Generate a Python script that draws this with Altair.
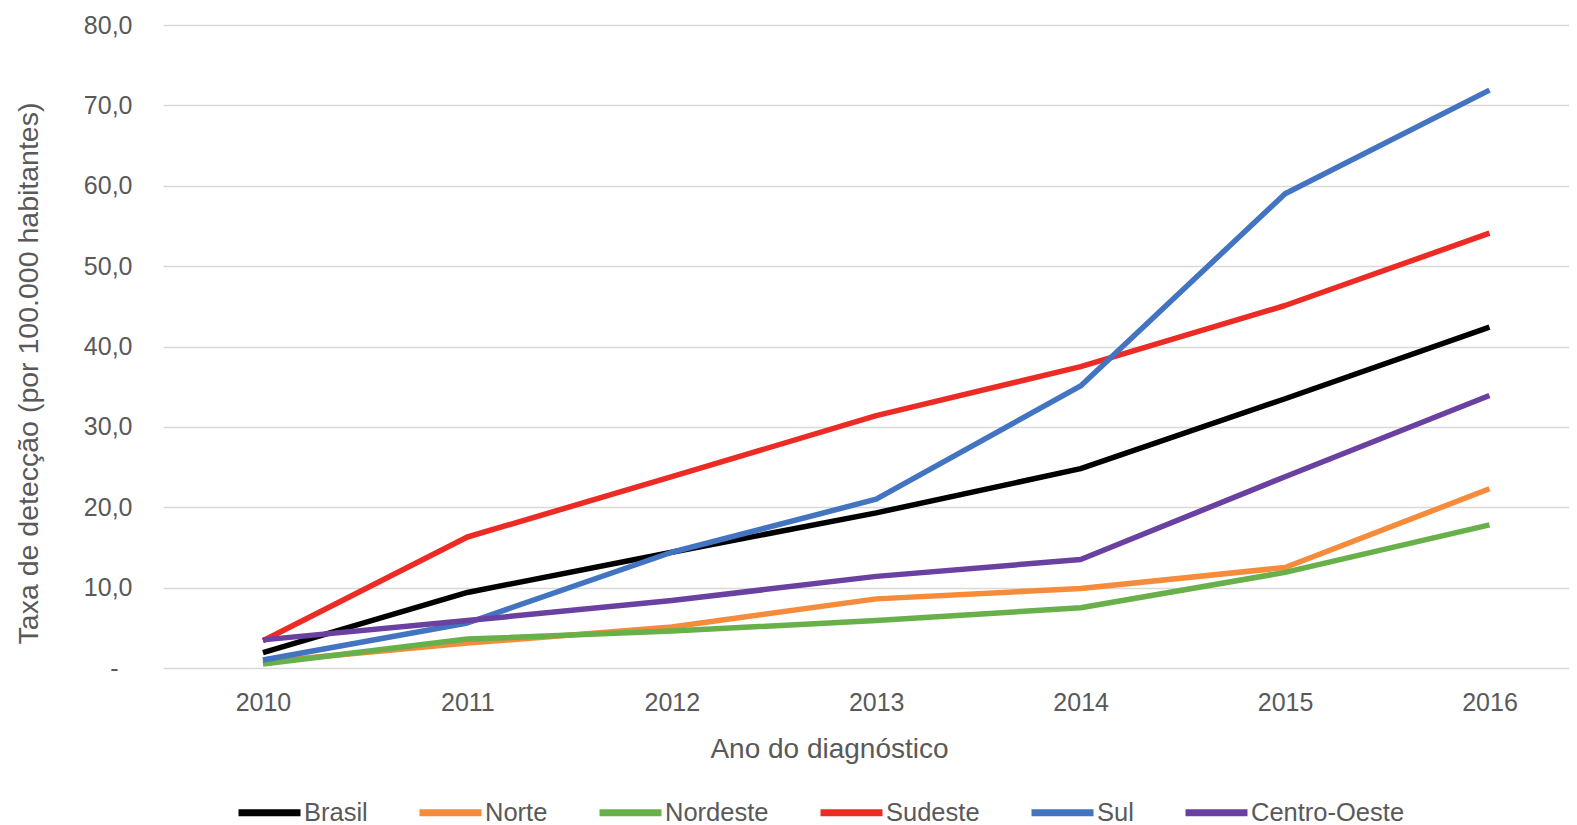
import altair as alt
import pandas as pd

years = [2010, 2011, 2012, 2013, 2014, 2015, 2016]
series = ["Brasil", "Norte", "Nordeste", "Sudeste", "Sul", "Centro-Oeste"]
colors = ["#000000", "#F68B3C", "#68B04A", "#EC2B25", "#4274C1", "#6A40A0"]

brasil = [1.9, 9.4, 14.4, 19.3, 24.8, 33.5, 42.4]
norte = [0.75, 3.1, 5.1, 8.6, 9.9, 12.5, 22.3]
nordeste = [0.5, 3.6, 4.6, 5.9, 7.5, 11.9, 17.8]
sudeste = [3.4, 16.3, 23.8, 31.4, 37.5, 45.1, 54.1]
sul = [1.0, 5.6, 14.4, 21.0, 35.1, 59.0, 71.9]
centro_oeste = [3.5, 5.9, 8.4, 11.4, 13.5, 23.8, 33.9]

y_ticks = [0, 10, 20, 30, 40, 50, 60, 70, 80]

values = [brasil, norte, nordeste, sudeste, sul, centro_oeste]
rows = []
for name, vals in zip(series, values):
    for yr, v in zip(years, vals):
        rows.append({"Ano": yr, "Regiao": name, "Taxa": v})
df = pd.DataFrame(rows)

FONT = "Liberation Sans"
GRAY = "#595959"

chart = alt.Chart(df).mark_line(strokeWidth=5.5, strokeJoin="round").encode(
    x=alt.X(
        "Ano:Q",
        scale=alt.Scale(domain=[2009.511, 2016.389], nice=False, zero=False),
        axis=alt.Axis(
            values=years, format="d", title="Ano do diagnóstico",
            labelFontSize=25, labelColor=GRAY, labelPadding=22, labelFont=FONT,
            ticks=False, domain=False, grid=False,
            titleFontSize=28, titleColor=GRAY, titleFont=FONT, titleFontWeight="normal",
            titleX=666, titleY=89, titleAlign="center", titleBaseline="alphabetic",
        ),
    ),
    y=alt.Y(
        "Taxa:Q",
        scale=alt.Scale(domain=[0, 80], nice=False),
        axis=alt.Axis(
            values=y_ticks,
            labelExpr="datum.value == 0 ? '-' : replace(format(datum.value, '.1f'), '.', ',')",
            title="Taxa de detecção (por 100.000 habitantes)",
            labelFontSize=25, labelColor=GRAY, labelFont=FONT,
            labelPadding={"condition": {"test": "datum.value == 0", "value": 45}, "value": 31},
            ticks=False, domain=False, grid=True, gridColor="#D9D9D9", gridWidth=1.5,
            titleFontSize=28.5, titleColor=GRAY, titleFont=FONT, titleFontWeight="normal",
            titleX=-135, titleY=348, titleAngle=270, titleAlign="center", titleBaseline="middle",
        ),
    ),
    color=alt.Color(
        "Regiao:N",
        scale=alt.Scale(domain=series, range=colors),
        sort=series,
        legend=alt.Legend(
            title=None, orient="none", direction="horizontal",
            legendX=72, legendY=753,
            symbolType="stroke", symbolSize=3844, symbolStrokeWidth=7,
            labelFontSize=25.5, labelColor=GRAY, labelFont=FONT, labelOffset=0,
            columnPadding=37, labelLimit=300,
        ),
    ),
).properties(
    width=1406,
    height=643,
    autosize=alt.AutoSizeParams(type="none"),
    padding={"left": 155, "top": 17, "right": 0, "bottom": 160},
).configure_view(stroke=None)

chart.save("out.html", embed_options={"renderer": "svg", "actions": False})
